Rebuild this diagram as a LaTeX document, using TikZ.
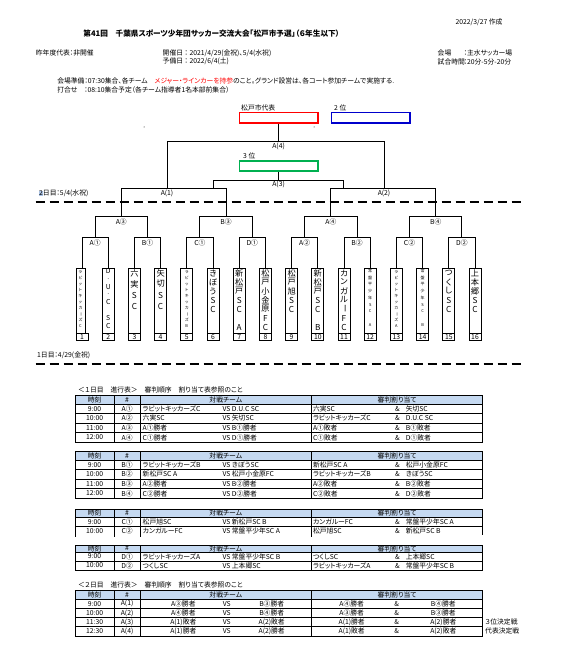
\documentclass[tikz,border=0pt]{standalone}
\usepackage{fontspec}
\setmainfont{Noto Sans CJK JP}[RawFeature=+palt]
\definecolor{hdr}{RGB}{197,217,241}
\definecolor{myred}{RGB}{255,0,0}
\definecolor{myblue}{RGB}{0,0,204}
\definecolor{mygreen}{RGB}{0,176,80}
\definecolor{hl}{RGB}{170,195,230}
\newcommand\fbig{\fontsize{8.2}{9}\selectfont}
\newcommand\fmid{\fontsize{6.8}{7}\selectfont}
\newcommand\ftiny{\fontsize{4}{4.5}\selectfont}
\newcommand\ftxt{\fontsize{6.8}{7.5}\selectfont}
\newcommand\vb{\rotatebox[origin=c]{-90}{ー}}
% vertical stack of characters: #1 name, #2 x, #3 y0, #4 pitch, #5 font, #6 list
\newcommand\vst[6]{\foreach \ch [count=\k from 0] in {#6}{\node[inner sep=0,font=#5] (v#1-\k) at (#2,{#3+\k*#4}) {\ch};}}
% table row: #1 name #2 y #3 time #4 id #5 team #6 opp #7 ref1 #8 ref2
\newcommand\trow[8]{%
 \node[tx] (#1t) at (94.6,#2) {#3};
 \node[tx] (#1i) at (127.1,#2) {#4};
 \node[tx,anchor=west] (#1a) at (142.5,#2) {#5};
 \node[tx,anchor=west] (#1b) at (222.3,#2) {VS #6};
 \node[tx,anchor=west] (#1c) at (312.8,#2) {#7};
 \node[tx,anchor=west] (#1d) at (395,#2) {\&\hspace{6pt}#8};}
\newcommand\frow[9]{%
 \node[tx] (#1t) at (94.6,#2) {#3};
 \node[tx] (#1i) at (127.1,#2) {#4};
 \node[tx] (#1a) at (183.3,#2) {#5};
 \node[tx] (#1v) at (226.7,#2) {VS};
 \node[tx] (#1b) at (271.7,#2) {#6};
 \node[tx] (#1c) at (351.7,#2) {#7};
 \node[tx] (#1e) at (396.7,#2) {\&};
 \node[tx] (#1d) at (443.3,#2) {#8};
 \node[tx,anchor=west] (#1x) at (485,#2) {#9};}
\newcommand\thead[2]{%
 \node[tx] (#1h1) at (94.6,#2) {時刻};
 \node[tx] (#1h2) at (127.1,#2) {\#};
 \node[tx] (#1h3) at (225.8,#2) {対戦チーム};
 \node[tx] (#1h4) at (397.2,#2) {審判割り当て};}
\begin{document}
\begin{tikzpicture}[x=1pt,y=-1pt,
  br/.style={line width=0.9pt},
  tx/.style={inner sep=0,font=\ftxt},
  lbl/.style={inner sep=0,font=\ftxt},
  tb/.style={line width=1pt},
  tr/.style={line width=0.5pt},
  dsh/.style={line width=1.8pt,dash pattern=on 9pt off 5pt},
  rbox/.style={line width=1.5pt,inner sep=0,minimum width=78.6pt,minimum height=10.5pt}]
\useasboundingbox (0,0) rectangle (561,671);
\fill[white] (0,0) rectangle (561,671);

% ---------- header ----------
\node[lbl,anchor=west] (date) at (455.4,22.7) {2022/3/27 作成};
\node[inner sep=0,anchor=west,font=\fontsize{7.65}{8}\selectfont\bfseries] (title) at (83.2,33.3) {第41回　千葉県スポーツ少年団サッカー交流大会「松戸市予選」（６年生以下）};
\node[lbl,anchor=west] (prev) at (35.7,53.3) {昨年度代表：非開催};
\node[lbl,anchor=west] (held) at (162.5,53.3) {開催日 ： 2021/4/29(金祝)、5/4(水祝)};
\node[lbl,anchor=west] (spare) at (162.5,61.7) {予備日 ： 2022/6/4(土)};
\node[lbl,anchor=west] (venL) at (437.5,53.3) {会場};
\node[lbl,anchor=west] (venV) at (463.5,53.3) {：主水サッカー場};
\node[lbl,anchor=west] (timL) at (437.5,61.7) {試合時間};
\node[lbl,anchor=west] (timV) at (463.5,61.7) {：20分-5分-20分};
\node[lbl,anchor=west] (prep) at (57.1,81) {会場準備：07:30集合、各チーム　\textcolor{myred}{メジャー・ラインカーを持参}のこと。グランド設営は、各コート参加チームで実施する.};
\node[lbl,anchor=west] (meet) at (57.1,90) {打合せ　：08:10集合予定（各チーム指導者1名本部前集合）};

% ---------- result boxes ----------
\node[lbl,anchor=west] (repL) at (241,108) {松戸市代表};
\node[lbl,anchor=west] (secL) at (334,108) {2 位};
\node[rbox,draw=myred] (rep) at (278.6,117.6) {};
\node[rbox,draw=myblue] (sec) at (370.7,117.6) {};
\node[lbl,anchor=west] (thrL) at (243,156) {3 位};
\node[rbox,draw=mygreen,minimum height=10pt] (thr) at (278.6,166) {};
\fill (144,127) circle[radius=0.5pt];
\fill (314,127) circle[radius=0.5pt];

% ---------- bracket (day 2) ----------
\coordinate (f1) at (167,141);
\coordinate (f2) at (384,141);
\coordinate (s1) at (213,180.3);
\coordinate (s2) at (343.6,180.3);
\draw[br] (rep.south) -- (rep.south |- f1);
\draw[br] (167,188.3) -- (f1) -- (f2) -- (384,188.3);
\node[lbl] (A4) at (278.6,146.7) {A(4)};
\draw[br] (thr.south) -- (thr.south |- s1);
\draw[br] (213,188.3) -- (s1) -- (s2) -- (343.6,188.3);
\node[lbl] (A3) at (278.6,184.3) {A(3)};
\draw[br] (121.3,216.7) -- (121.3,188.3) -- (226.1,188.3) -- (226.1,216.7);
\draw[br] (330.9,216.7) -- (330.9,188.3) -- (435.7,188.3) -- (435.7,216.7);
\node[lbl] (A1) at (167,193.7) {A(1)};
\node[lbl] (A2) at (384,193.7) {A(2)};
\node[lbl,anchor=west] (day2) at (38.6,193.7) {{\setlength\fboxsep{0.2pt}\colorbox{hl}{2}}日目：5/4(水祝)};
\draw[dsh] (35.7,201.7) -- (521.4,201.7);

% ---------- bracket (day 1) ----------
\foreach \q/\t in {0/A③,1/B③,2/A④,3/B④}{
  \pgfmathsetmacro\l{95.1+104.8*\q}
  \draw[br] (\l,237.7) -- (\l,216.7) -- (\l+52.4,216.7) -- (\l+52.4,237.7);
  \node[lbl] (r2-\q) at (\l+26.2,222.3) {\t};
}
\foreach \p/\t in {0/A①,1/B①,2/C①,3/D①,4/A②,5/B②,6/C②,7/D②}{
  \pgfmathsetmacro\l{82+52.4*\p}
  \draw[br] (\l,268) -- (\l,237.7) -- (\l+26.2,237.7) -- (\l+26.2,268);
  \node[lbl] (r1-\p) at (\l+13.1,243) {\t};
}
% team columns
\draw[br] (76,268) rectangle (85,333);
\draw[br] (76,333) rectangle (88,340);
\node[inner sep=0,font=\fmid] (n1) at (82,336.8) {1};
\foreach \i in {2,...,16}{
  \pgfmathsetmacro\L{76+26.2*(\i-1)}
  \draw[br] (\L,268) rectangle (\L+12,333);
  \draw[br] (\L,333) rectangle (\L+12,340);
  \node[inner sep=0,font=\fmid] (n\i) at (\L+6,336.8) {\i};
}
% team names (vertical)
\vst{1}{80.5}{272}{6}{\ftiny}{ラ,ビ,ッ,ト,キ,ッ,カ,\vb,ズ,C}
\vst{2}{108.2}{271}{7.8}{\fmid}{D,.,U,.,C,{},S,C}
\vst{3}{134.4}{273}{11}{\fbig}{六,実,S,C}
\vst{4}{160.6}{273}{11}{\fbig}{矢,切,S,C}
\vst{5}{186.8}{272}{6}{\ftiny}{ラ,ビ,ッ,ト,キ,ッ,カ,\vb,ズ,B}
\vst{6}{213.0}{273}{9}{\fbig}{き,ぼ,う,S,C}
\vst{7}{239.2}{273}{9}{\fbig}{新,松,戸,S,C,{},A}
\vst{8}{265.4}{273}{9}{\fbig}{松,戸,小,金,原,F,C}
\vst{9}{291.6}{273}{9}{\fbig}{松,戸,旭,S,C}
\vst{10}{317.8}{273}{9}{\fbig}{新,松,戸,S,C,{},B}
\vst{11}{344.0}{273}{9}{\fbig}{カ,ン,ガ,ル,\vb,F,C}
\vst{12}{370.2}{271}{6.75}{\ftiny}{常,盤,平,少,年,S,C,{},A}
\vst{13}{396.4}{272}{6}{\ftiny}{ラ,ビ,ッ,ト,キ,ッ,カ,\vb,ズ,A}
\vst{14}{422.6}{271}{6.75}{\ftiny}{常,盤,平,少,年,S,C,{},B}
\vst{15}{448.8}{273}{9}{\fbig}{つ,く,し,S,C}
\vst{16}{475.0}{273}{9}{\fbig}{上,本,郷,S,C}

\node[lbl,anchor=west] (day1) at (37,355) {1日目：4/29(金祝)};
\draw[dsh] (35.7,364) -- (521.4,364);

% ---------- table 1 ----------
\node[lbl,anchor=west] (t1cap) at (78,389.5) {＜１日目　進行表＞　審判順序　割り当て表参照のこと};
\fill[hdr] (75,395.5) rectangle (482.7,404);
\draw[tr] (75,404) -- (482.7,404);
\foreach \y in {413.5,423,432.5} \draw[tr] (75,\y) -- (482.7,\y);
\draw[tb] (75,395.5) rectangle (482.7,442.5);
\foreach \x in {114.3,140,311.7} \draw[tb] (\x,395.5) -- (\x,442.5);
\thead{a}{399.75}
\trow{a1}{408.75}{9:00}{A①}{ラビットキッカーズC}{D.U.C SC}{六実SC}{矢切SC}
\trow{a2}{418.25}{10:00}{A②}{六実SC}{矢切SC}{ラビットキッカーズC}{D.U.C SC}
\trow{a3}{427.75}{11:00}{A③}{A①勝者}{B①勝者}{A①敗者}{B①敗者}
\trow{a4}{437.5}{12:00}{A④}{C①勝者}{D①勝者}{C①敗者}{D①敗者}

% ---------- table 2 ----------
\fill[hdr] (75,451.5) rectangle (482.7,460);
\draw[tr] (75,460) -- (482.7,460);
\foreach \y in {469.5,479,488.5} \draw[tr] (75,\y) -- (482.7,\y);
\draw[tb] (75,451.5) rectangle (482.7,498.5);
\foreach \x in {114.3,140,311.7} \draw[tb] (\x,451.5) -- (\x,498.5);
\thead{b}{455.75}
\trow{b1}{464.75}{9:00}{B①}{ラビットキッカーズB}{きぼうSC}{新松戸SC A}{松戸小金原FC}
\trow{b2}{474.25}{10:00}{B②}{新松戸SC A}{松戸小金原FC}{ラビットキッカーズB}{きぼうSC}
\trow{b3}{483.75}{11:00}{B③}{A②勝者}{B②勝者}{A②敗者}{B②敗者}
\trow{b4}{493.5}{12:00}{B④}{C②勝者}{D②勝者}{C②敗者}{D②敗者}

% ---------- table 3 ----------
\fill[hdr] (75,509.5) rectangle (482.7,517);
\draw[tr] (75,517) -- (482.7,517);
\draw[tr] (75,526.5) -- (482.7,526.5);
\draw[tb] (75,536.5) -- (75,509.5) -- (482.7,509.5) -- (482.7,535);
\foreach \x in {114.3,140,311.7} \draw[tb] (\x,509.5) -- (\x,536.5);
\thead{c}{513.25}
\trow{c1}{521.75}{9:00}{C①}{松戸旭SC}{新松戸SC B}{カンガルーFC}{常盤平少年SC A}
\trow{c2}{531.25}{10:00}{C②}{カンガルーFC}{常盤平少年SC A}{松戸旭SC}{新松戸SC B}

% ---------- table 4 ----------
\fill[hdr] (75,545) rectangle (482.7,552);
\draw[tr] (75,552) -- (482.7,552);
\draw[tr] (75,561) -- (482.7,561);
\draw[tb] (75,545) rectangle (482.7,570);
\foreach \x in {114.3,140,311.7} \draw[tb] (\x,545) -- (\x,570);
\thead{d}{548.5}
\trow{d1}{556.5}{9:00}{D①}{ラビットキッカーズA}{常盤平少年SC B}{つくしSC}{上本郷SC}
\trow{d2}{565.5}{10:00}{D②}{つくしSC}{上本郷SC}{ラビットキッカーズA}{常盤平少年SC B}

% ---------- table 5 ----------
\node[lbl,anchor=west] (t5cap) at (78,585) {＜２日目　進行表＞　審判順序　割り当て表参照のこと};
\fill[hdr] (75,590) rectangle (482.7,599.3);
\draw[tr] (75,599.3) -- (482.7,599.3);
\draw[tr] (75,608.3) -- (482.7,608.3);
\draw[tb] (75,617.7) -- (482.7,617.7);
\draw[tb] (75,626.7) -- (482.7,626.7);
\draw[tb] (75,590) rectangle (482.7,636);
\foreach \x in {114.3,140,311.7} \draw[tb] (\x,590) -- (\x,636);
\thead{e}{594.65}
\frow{e1}{603.8}{9:00}{A(1)}{A③勝者}{B③勝者}{A④勝者}{B④勝者}{}
\frow{e2}{613}{10:00}{A(2)}{A④勝者}{B④勝者}{A③勝者}{B③勝者}{}
\frow{e3}{622.2}{11:30}{A(3)}{A(1)敗者}{A(2)敗者}{A(1)勝者}{A(2)勝者}{３位決定戦}
\frow{e4}{631.4}{12:30}{A(4)}{A(1)勝者}{A(2)勝者}{A(1)敗者}{A(2)敗者}{代表決定戦}
\end{tikzpicture}
\end{document}
